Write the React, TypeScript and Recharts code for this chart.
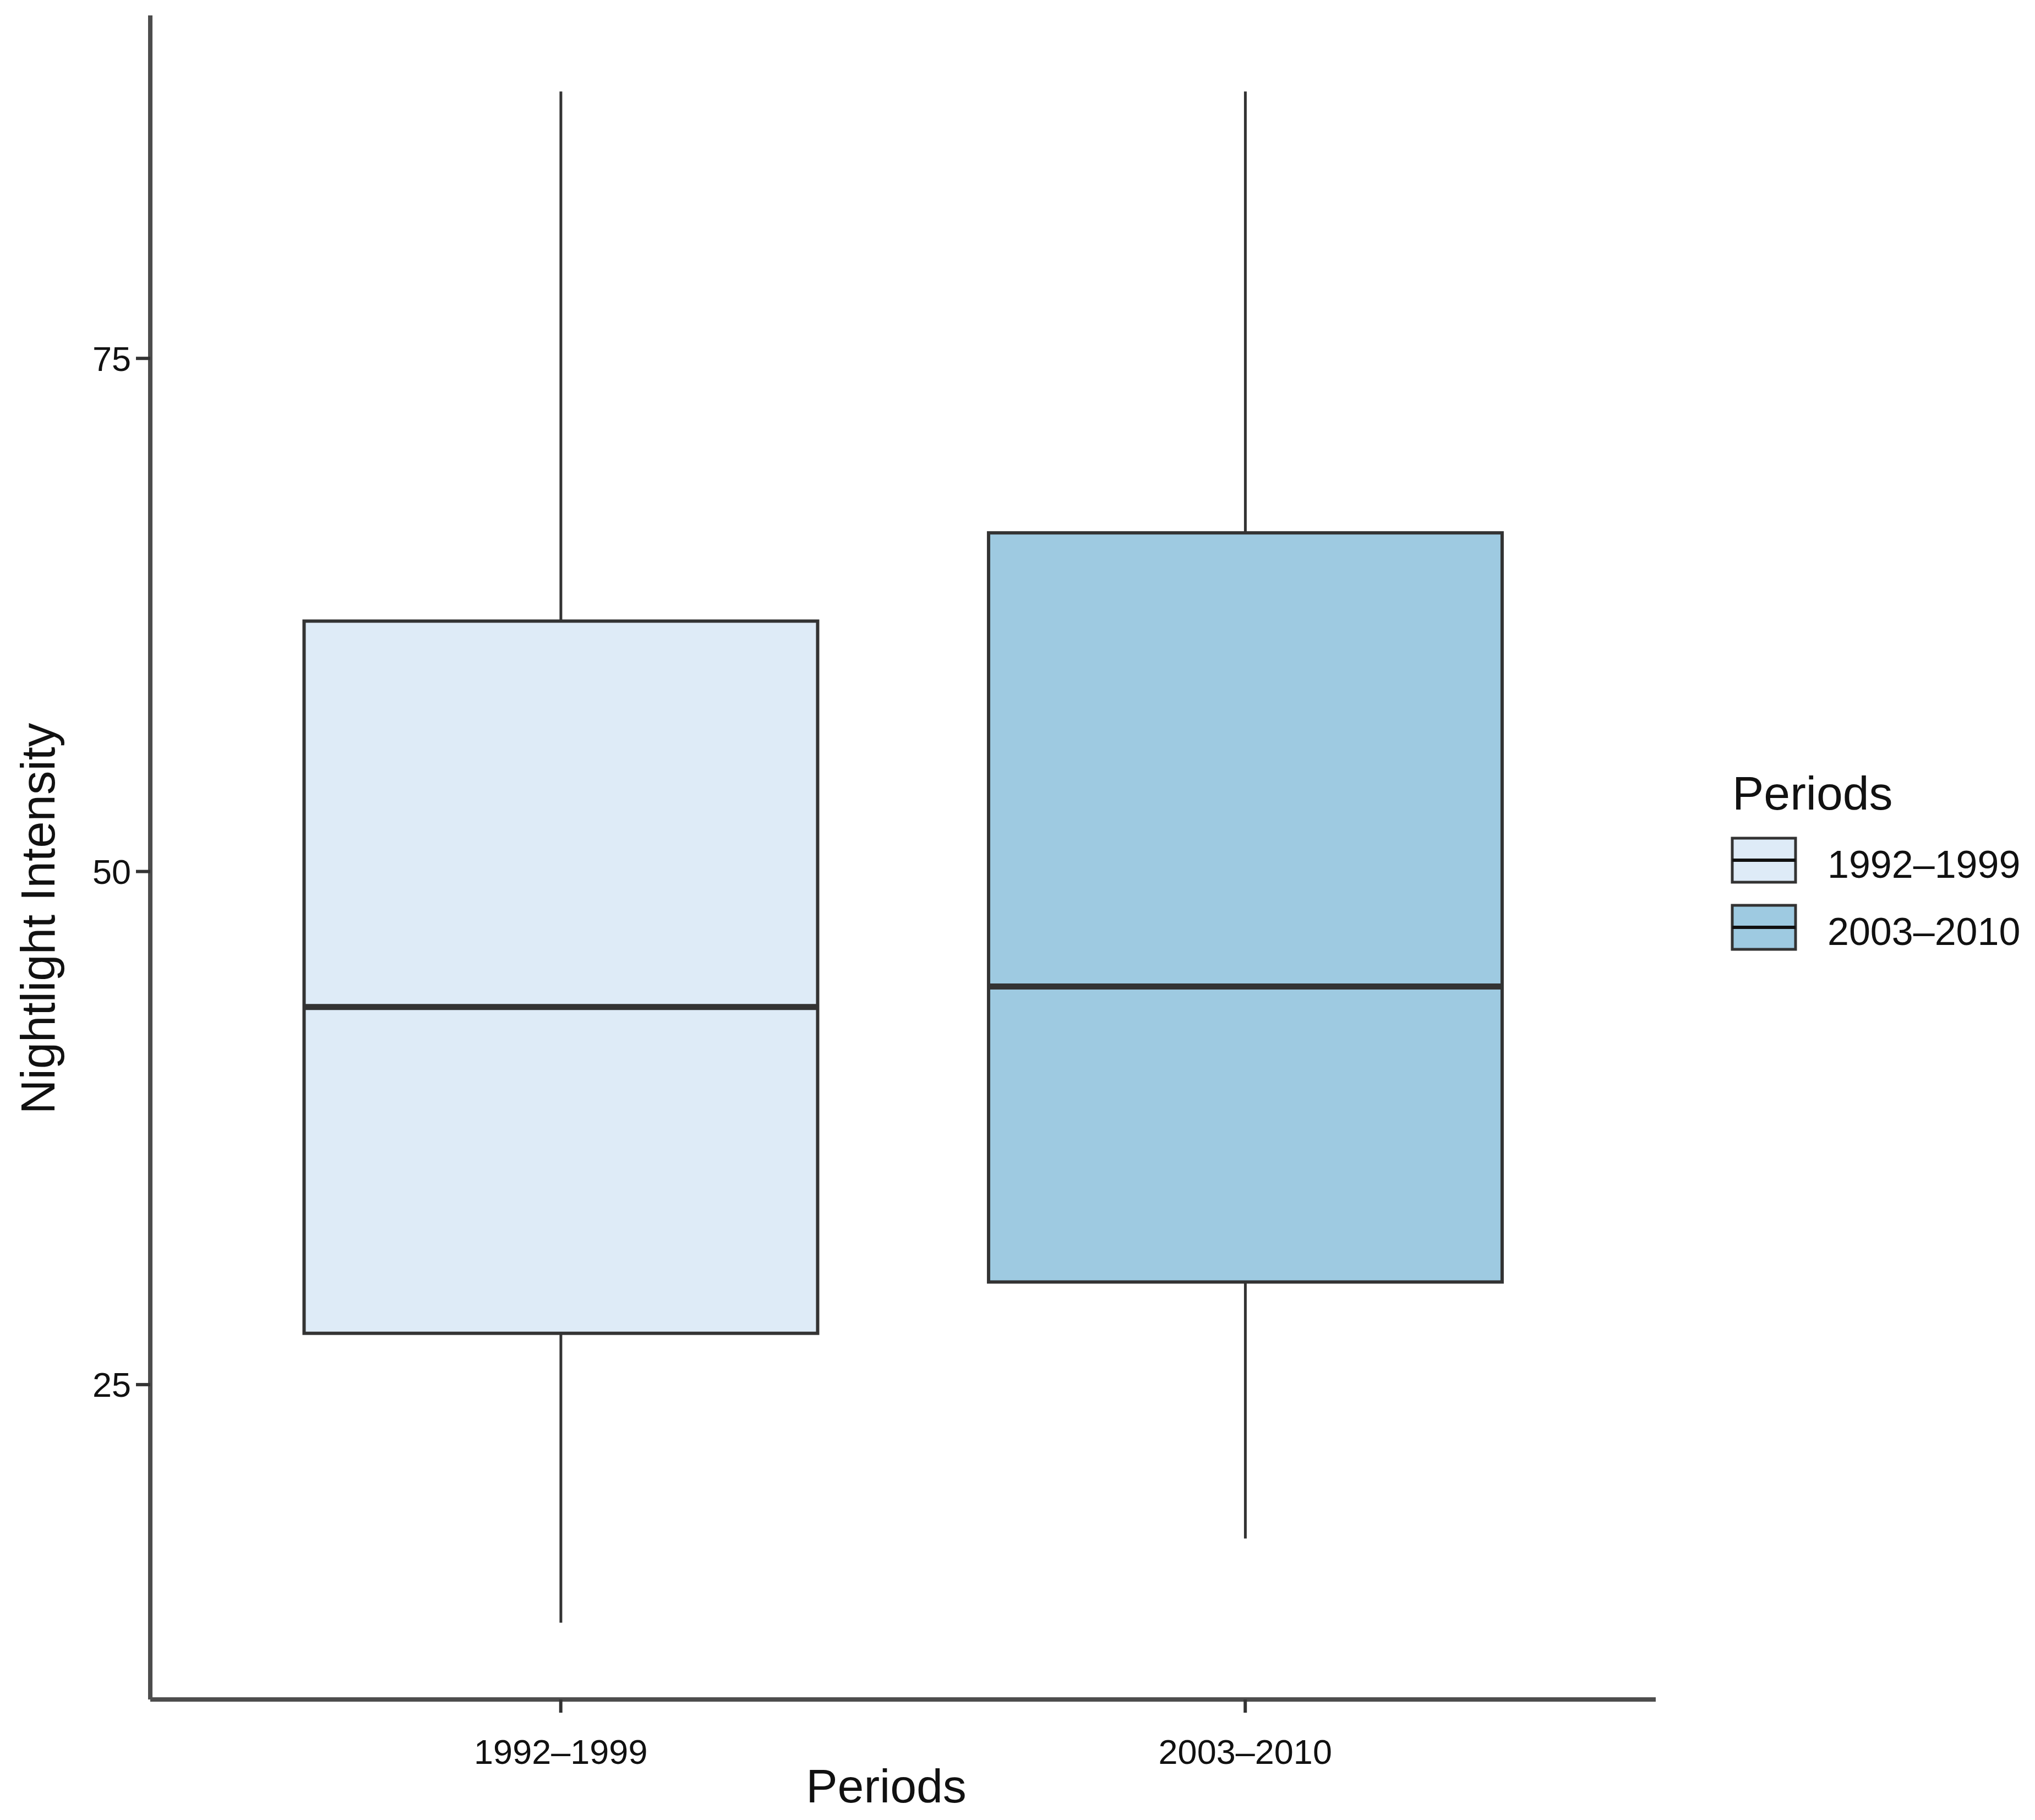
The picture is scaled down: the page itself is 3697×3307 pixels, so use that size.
import React from "react";
import {
  ComposedChart,
  Bar,
  XAxis,
  YAxis,
  Legend,
} from "recharts";

const PERIODS = ["1992–1999", "2003–2010"];
const LOWER_WHISKER = [13.4, 17.5];
const Q1 = [27.5, 30.0];
const MEDIAN = [43.4, 44.4];
const Q3 = [62.2, 66.5];
const UPPER_WHISKER = [88.0, 88.0];
const Y_TICKS = [25, 50, 75];
const Y_DOMAIN = [9.66, 91.71];
const FILLS = ["#deebf7", "#9ecae1"];

const FONT = "'Liberation Sans', Arial, Helvetica, sans-serif";
const INK = "#111111";
const LINE = "#333333";

const data = PERIODS.map((name, i) => ({
  name,
  low: LOWER_WHISKER[i],
  q1: Q1[i],
  median: MEDIAN[i],
  q3: Q3[i],
  high: UPPER_WHISKER[i],
  box: [Q1[i], Q3[i]],
  fill: FILLS[i],
}));

// box + whiskers + median, scaled from the bar rectangle recharts hands us
const BoxShape = (props: any) => {
  const { x, y, width, height, payload } = props;
  if (!payload) return null;
  const h = Math.abs(height);
  const top = Math.min(y, y + height);
  const ppu = h / (payload.q3 - payload.q1);
  const cx = x + width / 2;
  const yMed = top + (payload.q3 - payload.median) * ppu;
  const yHigh = top - (payload.high - payload.q3) * ppu;
  const yLow = top + h + (payload.q1 - payload.low) * ppu;
  return (
    <g>
      <line x1={cx} x2={cx} y1={yHigh} y2={top} stroke={LINE} strokeWidth={5} />
      <line x1={cx} x2={cx} y1={top + h} y2={yLow} stroke={LINE} strokeWidth={5} />
      <rect x={x} y={top} width={width} height={h} fill={payload.fill} stroke={LINE} strokeWidth={6} />
      <line x1={x} x2={x + width} y1={yMed} y2={yMed} stroke={LINE} strokeWidth={11} />
    </g>
  );
};

const LegendBox = () => (
  <svg width={597} height={400} style={{ display: "block", overflow: "visible" }}>
    <text x={47} y={121} fontFamily={FONT} fontSize={86} fill={INK}>
      Periods
    </text>
    {PERIODS.map((p, i) => {
      const top = 173 + i * 122;
      return (
        <g key={p}>
          <rect x={47} y={top} width={115} height={80} fill={FILLS[i]} stroke={LINE} strokeWidth={5} />
          <line x1={47} x2={162} y1={top + 40} y2={top + 40} stroke="#111" strokeWidth={6} />
          <text x={220} y={top + 72} fontFamily={FONT} fontSize={70} fill={INK}>
            {p}
          </text>
        </g>
      );
    })}
  </svg>
);

export default function App() {
  return (
    <div style={{ position: "absolute", left: 0, top: 0, background: "#fff" }}>
      <ComposedChart
        width={3697}
        height={3307}
        data={data}
        margin={{ top: 28, right: 689, bottom: 69, left: 73 }}
        barCategoryGap="12.5%"
      >
        <XAxis
          dataKey="name"
          type="category"
          padding={{ left: 124, right: 124 }}
          height={150}
          axisLine={{ stroke: "#4d4d4d", strokeWidth: 8 }}
          tickLine={{ stroke: LINE, strokeWidth: 6 }}
          tickSize={24}
          tickMargin={48}
          tick={{ fontFamily: FONT, fontSize: 63, fill: INK } as any}
          label={{
            content: () => (
              <text x={1610} y={3275} textAnchor="middle" fontFamily={FONT} fontSize={86} fill={INK}>
                Periods
              </text>
            ),
          }}
        />
        <YAxis
          type="number"
          domain={Y_DOMAIN}
          allowDataOverflow
          ticks={Y_TICKS}
          width={200}
          axisLine={{ stroke: "#4d4d4d", strokeWidth: 8 }}
          tickLine={{ stroke: LINE, strokeWidth: 6 }}
          tickSize={26}
          tickMargin={9}
          tick={{ fontFamily: FONT, fontSize: 63, fill: INK } as any}
          label={{
            content: () => (
              <text
                transform="translate(99,1669) rotate(-90)"
                textAnchor="middle"
                fontFamily={FONT}
                fontSize={87}
                fill={INK}
              >
                Nightlight Intensity
              </text>
            ),
          }}
        />
        <Bar dataKey="box" shape={BoxShape} isAnimationActive={false} />
        <Legend
          layout="horizontal"
          verticalAlign="middle"
          align="center"
          wrapperStyle={{ left: 3100, top: 1350, width: 597, height: 400 }}
          content={() => <LegendBox />}
        />
      </ComposedChart>
    </div>
  );
}
